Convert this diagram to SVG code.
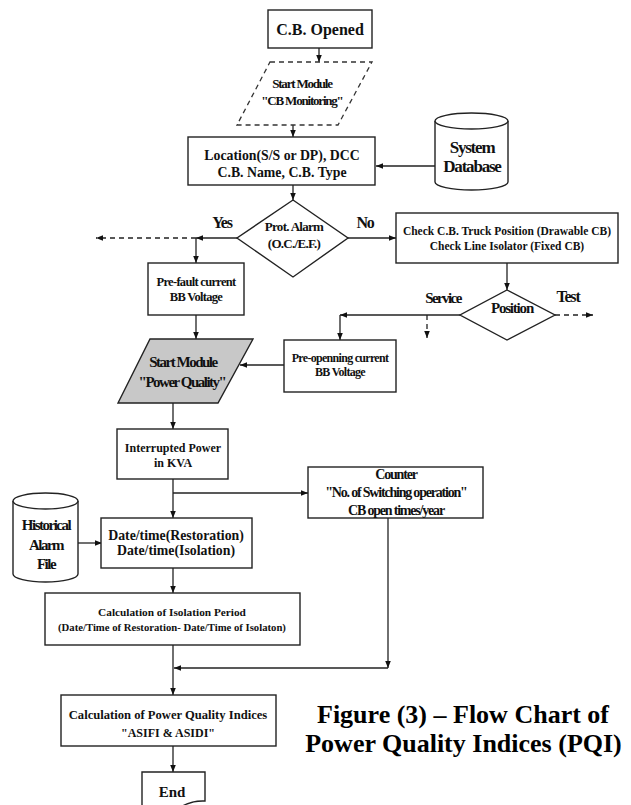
<svg xmlns="http://www.w3.org/2000/svg" width="631" height="805" viewBox="0 0 631 805">
<style>
.box{fill:#fff;stroke:#222;stroke-width:1.4}
.gray{fill:#c8c8c8;stroke:#222;stroke-width:1.4}
.dash{fill:#fff;stroke:#333;stroke-width:1.3;stroke-dasharray:5,4}
.ln{fill:none;stroke:#222;stroke-width:1.3}
.dl{fill:none;stroke:#222;stroke-width:1.3;stroke-dasharray:5,4}
text{font-family:"Liberation Serif","Times New Roman",serif;font-weight:bold;fill:#111;text-anchor:middle}
.c{letter-spacing:-0.7px}
.cc{letter-spacing:-1.2px}
.cap{font-size:26px;fill:#000}
</style>
<defs>
<marker id="ah" viewBox="0 0 10 10" refX="10" refY="5" markerWidth="7" markerHeight="7" markerUnits="userSpaceOnUse" orient="auto"><path d="M0,1 L10,5 L0,9 z" fill="#111"/></marker>
</defs>
<rect width="631" height="805" fill="#fff"/>

<g id="connectors">
<path class="ln" d="M319,48 V62" marker-end="url(#ah)"/>
<path class="ln" d="M293,125 V137" marker-end="url(#ah)"/>
<path class="ln" d="M293,185 V200" marker-end="url(#ah)"/>
<path class="ln" d="M435,166 H376" marker-end="url(#ah)"/>
<path class="ln" d="M237,238 H196" marker-end="url(#ah)"/>
<path class="dl" d="M196,238 H96" marker-end="url(#ah)"/>
<path class="ln" d="M196,238 V263" marker-end="url(#ah)"/>
<path class="ln" d="M348,238 H396" marker-end="url(#ah)"/>
<path class="ln" d="M196,315 V339" marker-end="url(#ah)"/>
<path class="ln" d="M507,263 V290" marker-end="url(#ah)"/>
<path class="ln" d="M460,315 H340" marker-end="url(#ah)"/>
<path class="ln" d="M340,315 V340" marker-end="url(#ah)"/>
<path class="dl" d="M427,315 V338" marker-end="url(#ah)"/>
<path class="dl" d="M555,315 H593" marker-end="url(#ah)"/>
<path class="ln" d="M284,365 H240" marker-end="url(#ah)"/>
<path class="ln" d="M173,403 V429" marker-end="url(#ah)"/>
<path class="ln" d="M173,479 V518" marker-end="url(#ah)"/>
<path class="ln" d="M173,493 H308" marker-end="url(#ah)"/>
<path class="ln" d="M78,543 H102" marker-end="url(#ah)"/>
<path class="ln" d="M173,568 V593" marker-end="url(#ah)"/>
<path class="ln" d="M173,645 V695" marker-end="url(#ah)"/>
<path class="ln" d="M388,518 V668" marker-end="url(#ah)"/>
<path class="ln" d="M388,668 H174" marker-end="url(#ah)"/>
<path class="ln" d="M173,746 V772" marker-end="url(#ah)"/>
</g>

<g id="cb-opened">
<rect class="box" x="268" y="10" width="104" height="38"/>
<text x="320" y="35" font-size="16">C.B. Opened</text>
</g>

<g id="start-cb-monitoring">
<polygon class="dash" points="270,62 372,62 338,125 237,125"/>
<text class="cc" x="302" y="88" font-size="13">Start Module</text>
<text class="cc" x="302" y="105" font-size="13">"CB Monitoring"</text>
</g>

<g id="location">
<rect class="box" x="188" y="137" width="187" height="48"/>
<text x="282" y="160" font-size="13.8">Location(S/S or DP), DCC</text>
<text x="282" y="177" font-size="13.8">C.B. Name, C.B. Type</text>
</g>

<g id="system-database">
<path class="box" d="M435,121 V182 A36.5,8 0 0 0 508,182 V121"/>
<ellipse class="box" cx="471.5" cy="121" rx="36.5" ry="8"/>
<text class="cc" x="472" y="153" font-size="17">System</text>
<text class="cc" x="472" y="172" font-size="17">Database</text>
</g>

<g id="prot-alarm">
<polygon class="box" points="293,200 348,238 293,277 237,238"/>
<text class="c" x="294" y="231" font-size="13">Prot. Alarm</text>
<text class="c" x="294" y="248" font-size="13">(O.C./E.F.)</text>
</g>
<text class="cc" x="222" y="228" font-size="16">Yes</text>
<text class="cc" x="365" y="228" font-size="16">No</text>

<g id="check-cb">
<rect class="box" x="396" y="213" width="222" height="50"/>
<text x="507" y="235" font-size="11.5">Check C.B. Truck Position (Drawable CB)</text>
<text x="507" y="250" font-size="11.5">Check Line Isolator (Fixed CB)</text>
</g>

<g id="pre-fault">
<rect class="box" x="148" y="263" width="96" height="52"/>
<text class="c" x="196" y="286" font-size="12.5">Pre-fault current</text>
<text class="c" x="196" y="301" font-size="12.5">BB Voltage</text>
</g>

<g id="position">
<polygon class="box" points="507,290 555,315 507,340 460,315"/>
<text class="cc" x="512" y="313" font-size="15">Position</text>
</g>
<text x="443" y="303" font-size="15" letter-spacing="-1.6">Service</text>
<text class="cc" x="568" y="302" font-size="16">Test</text>

<g id="start-power-quality">
<polygon class="gray" points="150,339 253,339 218,403 118,403"/>
<text x="183" y="367" font-size="15" letter-spacing="-1.5">Start Module</text>
<text x="182" y="387" font-size="15" letter-spacing="-1.5">"Power Quality"</text>
</g>

<g id="pre-opening">
<rect class="box" x="284" y="340" width="112" height="52"/>
<text class="c" x="340" y="362" font-size="12">Pre-openning current</text>
<text class="c" x="340" y="376" font-size="12">BB Voltage</text>
</g>

<g id="interrupted-power">
<rect class="box" x="117" y="429" width="111" height="50"/>
<text x="173" y="452" font-size="12">Interrupted Power</text>
<text x="173" y="467" font-size="12">in KVA</text>
</g>

<g id="counter">
<rect class="box" x="308" y="467" width="175" height="51"/>
<text class="cc" x="396" y="479" font-size="14">Counter</text>
<text class="cc" x="396" y="497" font-size="14">"No. of Switching operation"</text>
<text class="cc" x="396" y="515" font-size="14">CB open times/year</text>
</g>

<g id="historical-alarm">
<path class="box" d="M13,501 V574 A32.5,8 0 0 0 78,574 V501"/>
<ellipse class="box" cx="45.5" cy="501" rx="32.5" ry="8"/>
<text x="46" y="530" font-size="15" letter-spacing="-1.5">Historical</text>
<text x="46" y="550" font-size="15" letter-spacing="-1.5">Alarm</text>
<text x="46" y="569" font-size="15" letter-spacing="-1.5">File</text>
</g>

<g id="date-time">
<rect class="box" x="101" y="518" width="151" height="50"/>
<text x="176" y="540" font-size="13.8">Date/time(Restoration)</text>
<text x="176" y="555" font-size="13.8">Date/time(Isolation)</text>
</g>

<g id="calc-isolation">
<rect class="box" x="45" y="593" width="255" height="52"/>
<text x="172" y="616" font-size="11.3">Calculation of Isolation Period</text>
<text x="172" y="631" font-size="10.7">(Date/Time of Restoration- Date/Time of Isolaton)</text>
</g>

<g id="calc-pqi">
<rect class="box" x="61" y="695" width="215" height="51"/>
<text x="168" y="719" font-size="12.6">Calculation of Power Quality Indices</text>
<text x="168" y="737" font-size="12">"ASIFI &amp; ASIDI"</text>
</g>

<g id="end">
<path class="box" d="M142,772 H205 V801 Q186,800 172,814 H142 Z"/>
<text x="172" y="797" font-size="15">End</text>
</g>

<g id="caption">
<text class="cap" x="463" y="723">Figure (3) – Flow Chart of</text>
<text class="cap" x="463.5" y="752">Power Quality Indices (PQI)</text>
</g>
</svg>
